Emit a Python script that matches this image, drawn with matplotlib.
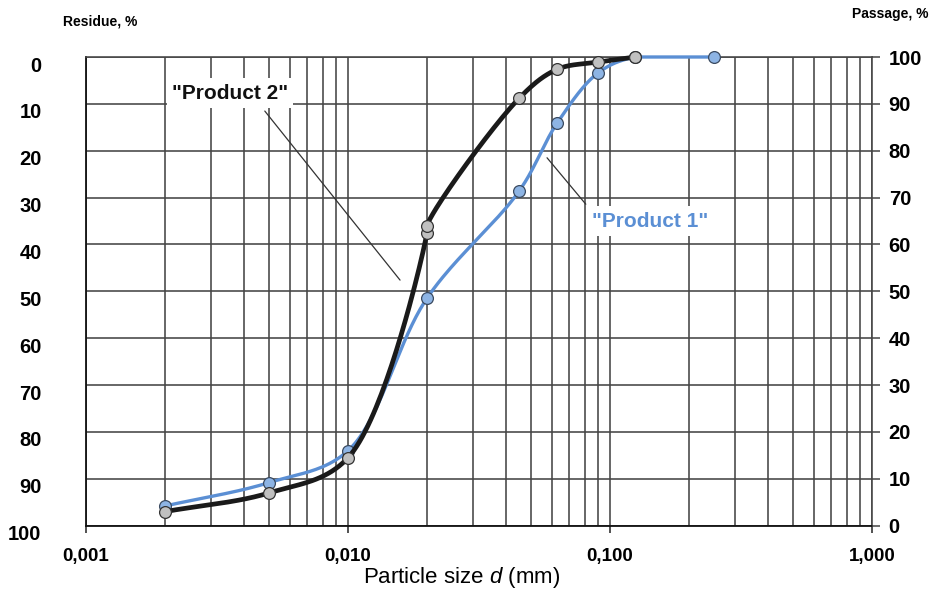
import matplotlib
matplotlib.use("Agg")
import matplotlib.pyplot as plt
import numpy as np
from matplotlib.ticker import FixedLocator, LogLocator, NullFormatter
from matplotlib.transforms import ScaledTranslation

plt.rcParams['font.family'] = ['Liberation Sans', 'DejaVu Sans']
plt.rcParams['mathtext.fontset'] = 'custom'
plt.rcParams['mathtext.it'] = 'Liberation Sans:italic'
plt.rcParams['mathtext.rm'] = 'Liberation Sans'

# particle size (mm) and cumulative residue (%)
d_prod1 = [0.002, 0.005, 0.010, 0.020, 0.045, 0.063, 0.090, 0.125, 0.250]
res_prod1 = [95.8, 90.8, 84.0, 51.5, 28.6, 14.0, 3.4, 0.0, 0.0]

d_prod2 = [0.002, 0.005, 0.010, 0.020, 0.020, 0.045, 0.063, 0.090, 0.125]
res_prod2 = [97.0, 93.0, 85.5, 37.6, 36.0, 8.8, 2.6, 1.1, 0.0]

x_ticks = [0.001, 0.01, 0.1, 1.0]
x_labels = ['0,001', '0,010', '0,100', '1,000']
y_ticks = list(range(0, 101, 10))

blue = '#5b8fd4'
blue_fill = '#8db4e4'
grey_fill = '#c0c0c0'
grid_col = '#454545'


def smooth(x, y, n=40):
    # centripetal Catmull-Rom through the points (log x, scaled like the axes)
    P = np.column_stack([np.log10(np.asarray(x, float)) * 262.0,
                         np.asarray(y, float) * 4.687])
    P = np.vstack([2 * P[0] - P[1], P, 2 * P[-1] - P[-2]])
    out = []
    for i in range(1, len(P) - 2):
        p0, p1, p2, p3 = P[i - 1:i + 3]
        t0 = 0.0
        t1 = t0 + max(np.linalg.norm(p1 - p0), 1e-6) ** 0.5
        t2 = t1 + max(np.linalg.norm(p2 - p1), 1e-6) ** 0.5
        t3 = t2 + max(np.linalg.norm(p3 - p2), 1e-6) ** 0.5
        t = np.linspace(t1, t2, n)[:, None]
        a1 = (t1 - t) / (t1 - t0) * p0 + (t - t0) / (t1 - t0) * p1
        a2 = (t2 - t) / (t2 - t1) * p1 + (t - t1) / (t2 - t1) * p2
        a3 = (t3 - t) / (t3 - t2) * p2 + (t - t2) / (t3 - t2) * p3
        b1 = (t2 - t) / (t2 - t0) * a1 + (t - t0) / (t2 - t0) * a2
        b2 = (t3 - t) / (t3 - t1) * a2 + (t - t1) / (t3 - t1) * a3
        out.append((t2 - t) / (t2 - t1) * b1 + (t - t1) / (t2 - t1) * b2)
    c = np.vstack(out)
    return 10 ** (c[:, 0] / 262.0), np.maximum(c[:, 1] / 4.687, 0.0)


fig = plt.figure(figsize=(9.34, 5.96), dpi=100)
ax = fig.add_axes([86 / 934, 1 - 525.7 / 596, 786 / 934, 468.7 / 596])

ax.set_xscale('log')
ax.set_xlim(0.001, 1.0)
ax.set_ylim(100, 0)

ax.xaxis.set_major_locator(FixedLocator(x_ticks))
ax.xaxis.set_minor_locator(LogLocator(base=10, subs=range(2, 10)))
ax.xaxis.set_minor_formatter(NullFormatter())
ax.set_xticks(x_ticks)
ax.set_xticklabels(x_labels, fontsize=13.5, fontweight='bold')
ax.set_yticks(y_ticks)
ax.set_yticklabels([str(v) for v in y_ticks], fontsize=14.5, fontweight='bold')

ax.grid(which='both', axis='x', color=grid_col, lw=1.15)
ax.grid(which='major', axis='y', color=grid_col, lw=1.15)
ax.set_axisbelow(True)
ax.tick_params(axis='x', which='minor', length=0)
ax.tick_params(axis='x', which='major', length=5, width=1.1, color='#222222', pad=11)
ax.tick_params(axis='y', length=0, pad=32)
for lab in ax.get_yticklabels():
    lab.set_transform(lab.get_transform() + ScaledTranslation(0, -0.07, fig.dpi_scale_trans))

for s in ('top', 'right'):
    ax.spines[s].set_color(grid_col)
    ax.spines[s].set_linewidth(1.15)
for s in ('left', 'bottom'):
    ax.spines[s].set_color('#111111')
    ax.spines[s].set_linewidth(1.3)

# passage axis on the right
ax2 = ax.twinx()
ax2.set_ylim(0, 100)
ax2.set_yticks(y_ticks)
ax2.set_yticklabels([str(v) for v in y_ticks], fontsize=14.5, fontweight='bold')
ax2.tick_params(axis='y', length=6, width=1.1, color=grid_col, pad=6)
for s in ax2.spines.values():
    s.set_visible(False)

# curves
sx1, sy1 = smooth(d_prod1, res_prod1)
sx2, sy2 = smooth(d_prod2, res_prod2)
ax.plot(sx1, sy1, color=blue, lw=2.4, zorder=3, solid_capstyle='round', clip_on=False)
ax.plot(d_prod1, res_prod1, 'o', ms=8.5, mfc=blue_fill, mec='#3a4a60', mew=0.9,
        zorder=4, clip_on=False)
ax.plot(sx2, sy2, color='#1a1a1a', lw=3.4, zorder=5, solid_capstyle='round', clip_on=False)
ax.plot(d_prod2, res_prod2, 'o', ms=8.5, mfc=grey_fill, mec='#333333', mew=0.9,
        zorder=6, clip_on=False)

# labels for the two products
ax.annotate('"Product 2"', xy=(0.0158, 47.6), xytext=(0.00355, 7.7),
            ha='center', va='center', fontsize=15, fontweight='bold', color='#111111',
            bbox=dict(boxstyle='square,pad=0.25', fc='white', ec='none'),
            arrowprops=dict(arrowstyle='-', color='#333333', lw=0.9,
                            relpos=(0.74, 0.0), shrinkA=3, shrinkB=0),
            zorder=7)
ax.annotate('"Product 1"', xy=(0.0575, 21.5), xytext=(0.1422, 35.0),
            ha='center', va='center', fontsize=15, fontweight='bold', color=blue,
            bbox=dict(boxstyle='square,pad=0.25', fc='white', ec='none'),
            arrowprops=dict(arrowstyle='-', color='#333333', lw=0.9,
                            relpos=(0.0, 1.0), shrinkA=2, shrinkB=0),
            zorder=7)

fig.text(100 / 934, 1 - 21 / 596, 'Residue, %', ha='center', va='center',
         fontsize=10, fontweight='bold')
fig.text(890 / 934, 1 - 14 / 596, 'Passage, %', ha='center', va='center',
         fontsize=10, fontweight='bold')
fig.text(462 / 934, 1 - 578 / 596, 'Particle size $d$ (mm)', ha='center', va='center',
         fontsize=16)

fig.savefig('out.png', dpi=100)
